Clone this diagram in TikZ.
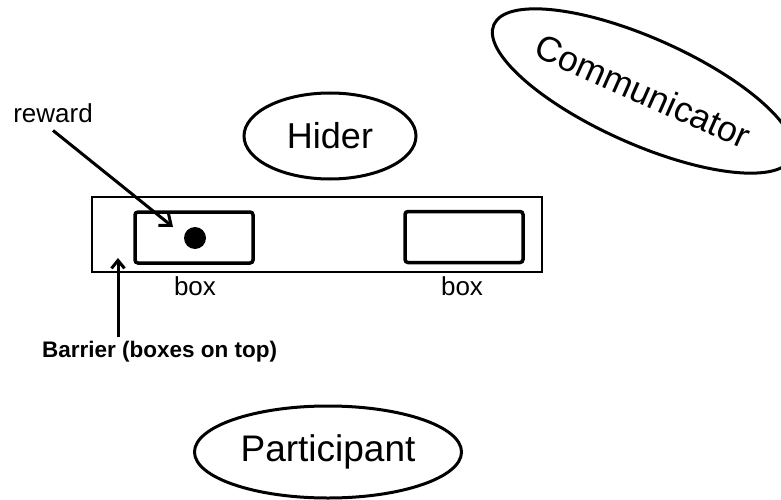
\documentclass[tikz,border=0pt]{standalone}
\usepackage{fontspec}
\setmainfont{Liberation Sans}
\usetikzlibrary{shapes.geometric,arrows.meta}
\begin{document}
\begin{tikzpicture}[x=1pt,y=-1pt,
  actor/.style={draw, ellipse, line width=3pt, inner sep=0pt},
  barrierbox/.style={draw, line width=2pt, inner sep=0pt},
  cup/.style={draw, line width=3.5pt, rounded corners=3pt, inner sep=0pt, minimum width=118pt, minimum height=51pt},
  lbl/.style={inner sep=0pt, font=\fontsize{26}{30}\selectfont},
  pointer/.style={line width=3pt, -{Straight Barb[length=10pt,width=16pt]}}
]
\useasboundingbox (0,0) rectangle (781,500);

\node[barrierbox, minimum width=450pt, minimum height=75pt] (barrier) at (317,234.5) {};
\node[cup] (leftbox) at (194,237.5) {};
\node[cup] (rightbox) at (464,237) {};
\node[circle, fill, minimum size=22pt, inner sep=0pt] (dot) at (195,238) {};

\node[lbl, anchor=base] (leftlbl) at (195,295) {box};
\node[lbl, anchor=base] (rightlbl) at (462,295) {box};

\node[lbl, anchor=base] (rewardlbl) at (53,123) {reward};
\coordinate (rewardtip) at (173,227);
\draw[pointer] ([yshift=-7pt]rewardlbl.south) -- (rewardtip);

\node[inner sep=0pt, anchor=base west, font=\bfseries\fontsize{22.5}{27}\selectfont] (barrierlbl) at (42,357) {Barrier (boxes on top)};
\coordinate (barriertip) at (118,258);
\draw[line width=3pt, -{Straight Barb[length=8pt,width=13pt]}] ([yshift=3pt]barriertip |- barrierlbl.north) -- (barriertip);

\node[actor, minimum width=172pt, minimum height=86pt, font=\fontsize{36}{44}\selectfont] (hider) at (330,136) {Hider};
\node[actor, minimum width=288pt, minimum height=106pt, rotate=-24, font=\fontsize{35.5}{44}\selectfont] (comm) at (643,91) {Communicator};
\node[actor, minimum width=267pt, minimum height=92pt, font=\fontsize{37}{44}\selectfont] (participant) at (328,452) {Participant};
\end{tikzpicture}
\end{document}
